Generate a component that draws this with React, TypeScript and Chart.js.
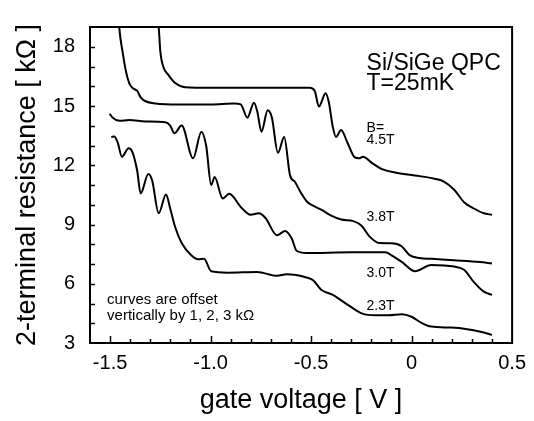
import { useEffect, useRef } from "react";
import { Chart, registerables } from "chart.js";

Chart.register(...registerables);

// ---- data (gate voltage [V], resistance [kΩ]) ----
const v45 = [-1.268, -1.258, -1.25, -1.234, -1.209, -1.176, -1.127, -0.997, -0.75, -0.507, -0.482, -0.461, -0.428, -0.412, -0.392, -0.376, -0.351, -0.319, -0.286, -0.262, -0.242, -0.196, -0.147, -0.082, 0.016, 0.114, 0.163, 0.212, 0.261, 0.31, 0.359, 0.4];
const r45 = [19.5, 18.94, 17.75, 16.95, 16.56, 16.16, 15.95, 15.92, 15.93, 15.92, 15.76, 14.97, 15.65, 15.2, 13.94, 13.43, 13.78, 13.14, 12.43, 12.35, 12.43, 12.11, 11.8, 11.63, 11.48, 11.32, 11.16, 10.76, 10.13, 9.81, 9.57, 9.49];

const v38 = [-1.457, -1.454, -1.438, -1.422, -1.405, -1.389, -1.365, -1.348, -1.324, -1.275, -1.16, -0.997, -0.882, -0.85, -0.817, -0.784, -0.768, -0.747, -0.716, -0.695, -0.665, -0.634, -0.605, -0.58, -0.55, -0.52, -0.49, -0.45, -0.4, -0.35, -0.29, -0.25, -0.21, -0.16, -0.1, -0.05, -0.01, 0.04, 0.1, 0.21, 0.34, 0.4];
const r38 = [19.5, 18.94, 17.75, 16.79, 16.16, 15.92, 15.76, 15.44, 15.24, 15.13, 15.08, 15.08, 15.13, 15.08, 14.41, 15.17, 14.73, 13.7, 14.78, 14.41, 12.63, 13.43, 11.5, 11.15, 10.6, 10.15, 9.95, 9.75, 9.45, 9.25, 9.17, 8.95, 8.4, 8.06, 8.05, 7.9, 7.45, 7.3, 7.26, 7.19, 7.1, 7.03];

const v30 = [-1.502, -1.487, -1.454, -1.405, -1.324, -1.225, -1.201, -1.18, -1.144, -1.087, -1.046, -1.022, -0.997, -0.98, -0.94, -0.907, -0.85, -0.801, -0.76, -0.727, -0.67, -0.629, -0.597, -0.572, -0.523, -0.3, -0.131, -0.098, -0.049, 0.016, 0.098, 0.212, 0.261, 0.31, 0.359, 0.4];
const r30 = [14.6, 14.41, 14.25, 14.29, 14.22, 14.18, 14.01, 13.62, 14.01, 12.35, 13.7, 12.99, 11.0, 11.4, 10.32, 10.56, 9.89, 9.49, 9.57, 9.33, 8.46, 8.67, 8.3, 7.67, 7.56, 7.59, 7.59, 7.43, 7.11, 6.63, 6.95, 6.87, 6.71, 6.08, 5.6, 5.44];

const v23 = [-1.494, -1.479, -1.462, -1.441, -1.408, -1.389, -1.365, -1.348, -1.31, -1.291, -1.258, -1.222, -1.201, -1.176, -1.144, -1.095, -1.062, -1.033, -0.997, -0.915, -0.768, -0.67, -0.621, -0.523, -0.49, -0.45, -0.392, -0.311, -0.245, -0.18, -0.115, -0.049, 0, 0.049, 0.098, 0.196, 0.277, 0.343, 0.4];
const r23 = [13.43, 13.46, 13.14, 12.43, 12.86, 12.67, 11.71, 10.57, 11.56, 11.24, 9.57, 10.52, 9.81, 8.86, 8.06, 7.43, 7.24, 7.27, 6.63, 6.56, 6.6, 6.4, 6.48, 6.32, 6.18, 5.7, 5.44, 4.89, 4.49, 4.41, 4.41, 4.46, 4.33, 4.02, 3.83, 3.78, 3.7, 3.57, 3.41];

const xTickValues = [-1.5, -1.0, -0.5, 0, 0.5];
const xTickLabels = ["-1.5", "-1.0", "-0.5", "0", "0.5"];
const yTickValues = [3, 6, 9, 12, 15, 18];
const yTickLabels = ["3", "6", "9", "12", "15", "18"];
const xMinorTicks = [-1.5, -1.4, -1.3, -1.2, -1.1, -1.0, -0.9, -0.8, -0.7, -0.6, -0.5, -0.4, -0.3, -0.2, -0.1, 0, 0.1, 0.2, 0.3, 0.4];
const xMajorTicks = [-1.5, -1.0, -0.5, 0];
const yMinorTicks = [4, 5, 6, 7, 8, 9, 10, 11, 12, 13, 14, 15, 16, 17, 18];

const noteTexts = [
  { text: "Si/SiGe QPC", x: -0.224, y: 16.84, size: 23 },
  { text: "T=25mK", x: -0.224, y: 15.8, size: 23 },
  { text: "B=", x: -0.224, y: 13.7, size: 14 },
  { text: "4.5T", x: -0.224, y: 13.06, size: 14 },
  { text: "3.8T", x: -0.224, y: 9.18, size: 14 },
  { text: "3.0T", x: -0.224, y: 6.32, size: 14 },
  { text: "2.3T", x: -0.224, y: 4.68, size: 14 },
  { text: "curves are offset", x: -1.515, y: 5.0, size: 15 },
  { text: "vertically by 1, 2, 3 kΩ", x: -1.515, y: 4.14, size: 15 },
];

const FONT = "'Liberation Sans', Arial, Helvetica, sans-serif";

const toPts = (xs: number[], ys: number[]) => xs.map((x, i) => ({ x, y: ys[i] }));

const framePlugin = {
  id: "frameAndNotes",
  afterDatasetsDraw(chart: any) {
    const { ctx, chartArea, scales } = chart;
    const { left, right, top, bottom } = chartArea;
    const xs = scales.x;
    const ys = scales.y;
    ctx.save();
    ctx.strokeStyle = "#000";
    ctx.lineWidth = 2;
    ctx.strokeRect(left, top, right - left, bottom - top);
    ctx.lineWidth = 1.5;
    ctx.beginPath();
    yMinorTicks.forEach((v) => {
      const py = Math.round(ys.getPixelForValue(v)) + 0.5;
      ctx.moveTo(left, py);
      ctx.lineTo(left + 5, py);
    });
    xMinorTicks.forEach((v) => {
      const px = Math.round(xs.getPixelForValue(v)) + 0.5;
      const len = xMajorTicks.some((m) => Math.abs(m - v) < 1e-9) ? 7 : 4;
      ctx.moveTo(px, bottom);
      ctx.lineTo(px, bottom - len);
    });
    ctx.stroke();
    ctx.fillStyle = "#000";
    ctx.textAlign = "left";
    ctx.textBaseline = "alphabetic";
    noteTexts.forEach((n) => {
      ctx.font = `${n.size}px ${FONT}`;
      ctx.fillText(n.text, xs.getPixelForValue(n.x), ys.getPixelForValue(n.y));
    });
    ctx.restore();
  },
};

export default function App() {
  const ref = useRef<HTMLCanvasElement | null>(null);
  useEffect(() => {
    document.body.style.margin = "0";
    const canvas = ref.current;
    if (!canvas) return;
    const line = (label: string, xs: number[], ys: number[]) => ({
      label,
      data: toPts(xs, ys),
      borderColor: "#000",
      borderWidth: 2,
      pointRadius: 0,
      fill: false,
      cubicInterpolationMode: "monotone" as const,
      tension: 0.4,
    });
    const chart = new Chart(canvas, {
      type: "line",
      data: {
        datasets: [
          line("B=4.5T", v45, r45),
          line("3.8T", v38, r38),
          line("3.0T", v30, r30),
          line("2.3T", v23, r23),
        ],
      },
      options: {
        animation: false,
        responsive: false,
        maintainAspectRatio: false,
        layout: { padding: { left: 0, right: 16, top: 7, bottom: 0 } },
        plugins: { legend: { display: false }, tooltip: { enabled: false } },
        scales: {
          x: {
            type: "linear",
            min: -1.6,
            max: 0.5,
            afterBuildTicks: (s: any) => {
              s.ticks = xTickValues.map((v) => ({ value: v }));
            },
            afterFit: (s: any) => {
              s.height = 78;
            },
            grid: { display: false, drawTicks: false },
            border: { display: false },
            ticks: {
              color: "#000",
              font: { family: FONT, size: 20 },
              padding: 8,
              maxRotation: 0,
              autoSkip: false,
              callback: (value: any) => {
                const i = xTickValues.findIndex((t) => Math.abs(t - Number(value)) < 1e-9);
                return i >= 0 ? xTickLabels[i] : "";
              },
            },
            title: {
              display: true,
              text: "gate voltage [ V ]",
              color: "#000",
              font: { family: FONT, size: 27 },
              padding: { top: 0, bottom: 4 },
            },
          },
          y: {
            type: "linear",
            min: 3,
            max: 19,
            afterBuildTicks: (s: any) => {
              s.ticks = yTickValues.map((v) => ({ value: v }));
            },
            afterFit: (s: any) => {
              s.width = 90;
            },
            grid: { display: false, drawTicks: false },
            border: { display: false },
            ticks: {
              color: "#000",
              font: { family: FONT, size: 20 },
              padding: 15,
              autoSkip: false,
              callback: (value: any) => {
                const i = yTickValues.findIndex((t) => Math.abs(t - Number(value)) < 1e-9);
                return i >= 0 ? yTickLabels[i] : "";
              },
            },
            title: {
              display: true,
              text: "2-terminal resistance [ kΩ ]",
              color: "#000",
              font: { family: FONT, size: 27 },
              padding: { top: 11, bottom: 0 },
            },
          },
        },
      },
      plugins: [framePlugin],
    });
    return () => chart.destroy();
  }, []);
  return (
    <div style={{ width: 534, height: 421, background: "#fff" }}>
      <canvas ref={ref} width={534} height={421} style={{ display: "block" }} />
    </div>
  );
}
